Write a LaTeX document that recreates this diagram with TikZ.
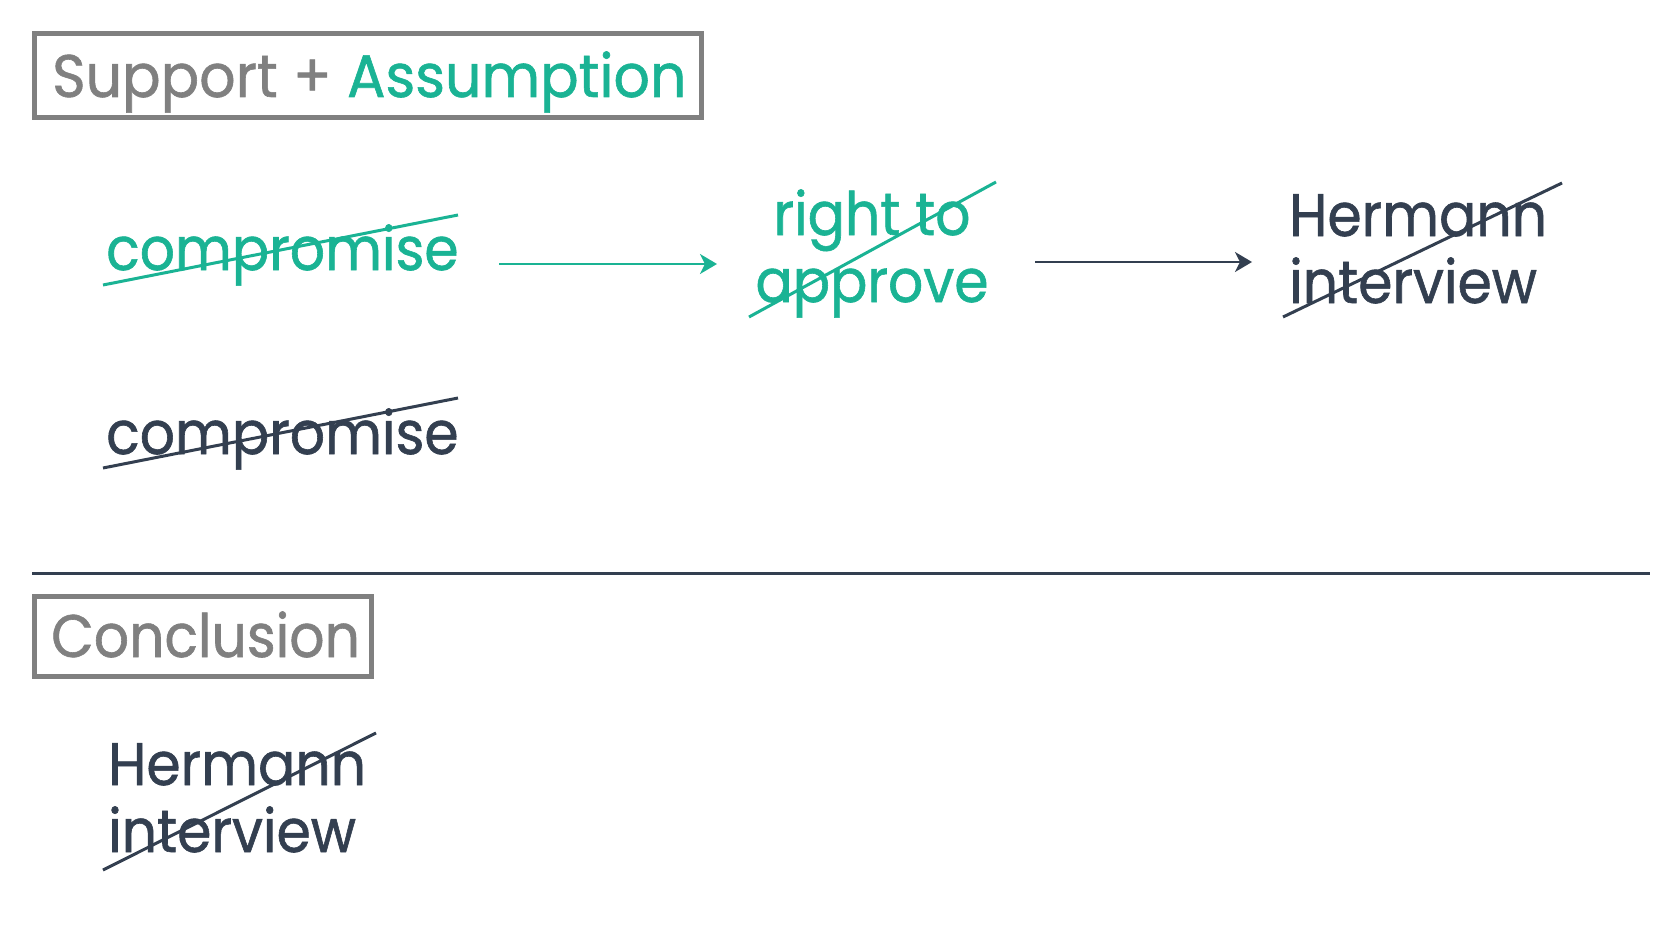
\documentclass[tikz,border=0pt]{standalone}
\usepackage{fontspec}
\setmainfont[FakeStretch=0.92,FakeBold=1]{Poppins}
\newfontfamily\titlefont[FakeStretch=0.95,FakeBold=1]{Poppins}
\usetikzlibrary{arrows.meta}
\definecolor{teal1}{RGB}{26,179,148}
\definecolor{navy1}{RGB}{51,63,80}
\definecolor{gray1}{RGB}{128,128,128}
\tikzset{
  x=1pt, y=-1pt,
  bigtext/.style={inner sep=0pt, font=\fontsize{60}{67}\selectfont},
  framebox/.style={draw=gray1, line width=5pt},
  strike/.style={line width=3pt},
  flow/.style={line width=2pt, -{Stealth[length=17pt,width=20pt,inset=5pt]}},
}
\begin{document}
\begin{tikzpicture}
\useasboundingbox (0,0) rectangle (1678,931);
% title boxes
\draw[framebox] (34.5,33.5) rectangle (701.5,117.5);
\node[bigtext, anchor=base west, font=\titlefont\fontsize{60}{67}\selectfont] (title) at (52,97) {\textcolor{gray1}{Support +} \textcolor{teal1}{Assumption}};
\draw[framebox] (34.5,596.5) rectangle (371.5,676.5);
\node[bigtext, anchor=base west, text=gray1] (concl) at (51,657) {Conclusion};
% separator
\draw[navy1, line width=3pt] (32,573) -- (1650,573);
% nodes (multi-line nodes: base = baseline of last line)
\node[bigtext, anchor=base west, text=teal1] (comp1) at (106,270) {compromise};
\node[bigtext, anchor=base, align=center, text=teal1] (right) at (872,302) {right to\\approve};
\node[bigtext, anchor=base west, align=left, text=navy1] (herm1) at (1289,303) {Hermann\\interview};
\node[bigtext, anchor=base west, text=navy1] (comp2) at (106,454) {compromise};
\node[bigtext, anchor=base west, align=left, text=navy1] (herm2) at (108,852) {Hermann\\interview};
% strike lines
\coordinate (s1a) at (103,285); \coordinate (s1b) at (458,215);
\coordinate (s2a) at (749,317); \coordinate (s2b) at (996,182);
\coordinate (s3a) at (1283,317); \coordinate (s3b) at (1562,183);
\coordinate (s4a) at (103,468); \coordinate (s4b) at (458,398);
\coordinate (s5a) at (103,870); \coordinate (s5b) at (376,733);
\draw[strike, teal1] (s1a) -- (s1b);
\draw[strike, teal1] (s2a) -- (s2b);
\draw[strike, navy1] (s3a) -- (s3b);
\draw[strike, navy1] (s4a) -- (s4b);
\draw[strike, navy1] (s5a) -- (s5b);
% arrows
\coordinate (a1s) at (499,264); \coordinate (a1e) at (717,264);
\coordinate (a2s) at (1035,262); \coordinate (a2e) at (1252,262);
\draw[flow, teal1] (a1s) -- (a1e);
\draw[flow, navy1] (a2s) -- (a2e);
\end{tikzpicture}
\end{document}
